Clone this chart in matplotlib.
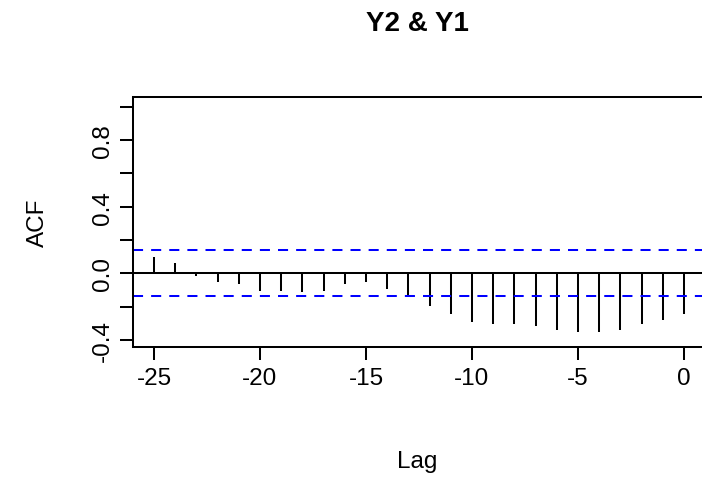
import matplotlib
matplotlib.use("Agg")
import matplotlib.pyplot as plt
import numpy as np

# cross-correlation values
lags = list(range(-25, 1))
acf_vals = [0.096, 0.061, -0.014, -0.054, -0.066, -0.104, -0.104, -0.113, -0.104,
            -0.066, -0.054, -0.092, -0.131, -0.197, -0.245, -0.293, -0.305, -0.305,
            -0.316, -0.340, -0.352, -0.352, -0.340, -0.305, -0.281, -0.245]
ci = 0.138
yticks = [-0.4, -0.2, 0.0, 0.2, 0.4, 0.6, 0.8, 1.0]
ytick_labels = ["-0.4", "", "0.0", "", "0.4", "", "0.8", ""]
xticks = [-25, -20, -15, -10, -5, 0]

plt.rcParams['font.family'] = ['Liberation Sans', 'DejaVu Sans']

fig = plt.figure(figsize=(7.02, 4.81), dpi=100)
ax = fig.add_axes([133 / 702, 1 - 348 / 481, 569 / 702, 250 / 481])

lw = 1.45
ax.vlines(lags, 0, acf_vals, color="black", linewidth=lw)
ax.axhline(0, color="black", linewidth=lw)
for c in (ci, -ci):
    ax.axhline(c, color="#0000FF", linewidth=lw, linestyle=(0, (5, 4)))

ax.set_xlim(-25.99, 0.85)
ax.set_ylim(-0.442, 1.058)
ax.set_xticks(xticks)
ax.set_xticklabels([str(x) for x in xticks])
ax.set_yticks(yticks)
ax.set_yticklabels(ytick_labels, rotation=90, va="center")

ax.spines["right"].set_visible(False)
for s in ("left", "top", "bottom"):
    ax.spines[s].set_linewidth(lw)
ax.tick_params(axis="both", length=9.5, width=lw, labelsize=17.5, direction="out")
ax.tick_params(axis="x", pad=5)
ax.tick_params(axis="y", pad=4)

ax.set_xlabel("Lag", fontsize=17.5)
ax.set_ylabel("ACF", fontsize=17.5)
ax.xaxis.set_label_coords(0.5, (348 - 462) / 250)
ax.yaxis.set_label_coords((38 - 133) / 569, 0.5)
ax.xaxis.label.set_va("center")
ax.yaxis.label.set_va("center")

ax.set_title("Y2 & Y1", fontsize=20, fontweight="bold", y=(348 - 32) / 250, va="center")

fig.savefig("out.png", dpi=100)
